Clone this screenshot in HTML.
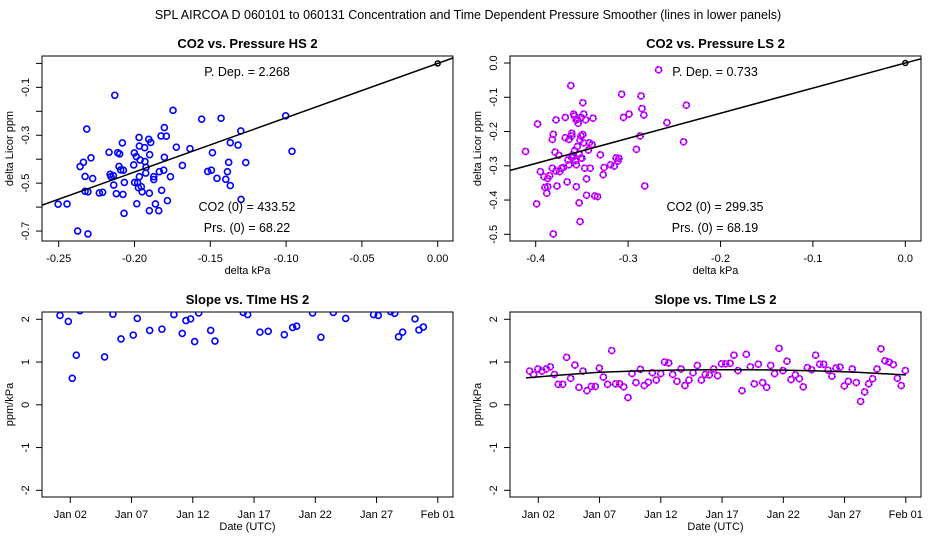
<!DOCTYPE html>
<html><head><meta charset="utf-8"><style>
body{margin:0;background:#fff}
svg{display:block;font-family:"Liberation Sans",sans-serif}
</style></head><body>
<svg id="c" width="936" height="540" viewBox="0 0 936 540">
<text x="468" y="19" text-anchor="middle" font-size="12.5">SPL   AIRCOA D   060101 to 060131   Concentration and Time Dependent Pressure Smoother (lines in lower panels)</text>
</svg>
<script>
// ---- data ----
const hsPressX=[-0.213,-0.2315,-0.2504,-0.2445,-0.2375,-0.2307,-0.2359,-0.2337,-0.2326,-0.2287,-0.2276,-0.2326,-0.2307,-0.2232,-0.2210,-0.2168,-0.2161,-0.2155,-0.2139,-0.2137,-0.2120,-0.2111,-0.2102,-0.2098,-0.2091,-0.2080,-0.2076,-0.2073,-0.2067,-0.2069,-0.2005,-0.2001,-0.1999,-0.1988,-0.1985,-0.1979,-0.1974,-0.1970,-0.1968,-0.1968,-0.1963,-0.1955,-0.1950,-0.1933,-0.1931,-0.1926,-0.1924,-0.1906,-0.1893,-0.1900,-0.1902,-0.1902,-0.1873,-0.1873,-0.1862,-0.1840,-0.1836,-0.1825,-0.1821,-0.1807,-0.1803,-0.1803,-0.1790,-0.1783,-0.1763,-0.1746,-0.1724,-0.1684,-0.1634,-0.1557,-0.1517,-0.1493,-0.1486,-0.1456,-0.1429,-0.1398,-0.1387,-0.1379,-0.1368,-0.1368,-0.1317,-0.1299,-0.1297,-0.1266,-0.1003,-0.0961];
const hsPressY=[-0.133,-0.274,-0.588,-0.587,-0.700,-0.712,-0.431,-0.413,-0.472,-0.394,-0.481,-0.534,-0.536,-0.541,-0.538,-0.371,-0.463,-0.473,-0.469,-0.508,-0.544,-0.373,-0.430,-0.378,-0.445,-0.332,-0.547,-0.446,-0.497,-0.626,-0.424,-0.374,-0.497,-0.389,-0.586,-0.498,-0.519,-0.309,-0.345,-0.473,-0.403,-0.515,-0.536,-0.352,-0.410,-0.458,-0.434,-0.317,-0.330,-0.381,-0.542,-0.615,-0.473,-0.485,-0.587,-0.615,-0.452,-0.303,-0.530,-0.446,-0.268,-0.392,-0.304,-0.573,-0.473,-0.196,-0.350,-0.426,-0.356,-0.233,-0.451,-0.446,-0.373,-0.480,-0.229,-0.484,-0.452,-0.413,-0.331,-0.510,-0.341,-0.282,-0.568,-0.414,-0.219,-0.367];
const hsSlope=2.268;
const lsPressX=[-0.411,-0.398,-0.395,-0.399,-0.391,-0.390,-0.388,-0.387,-0.387,-0.385,-0.382,-0.382,-0.381,-0.381,-0.379,-0.378,-0.378,-0.377,-0.375,-0.374,-0.372,-0.370,-0.368,-0.368,-0.366,-0.365,-0.364,-0.364,-0.362,-0.361,-0.361,-0.361,-0.360,-0.359,-0.359,-0.358,-0.358,-0.357,-0.356,-0.356,-0.356,-0.355,-0.355,-0.354,-0.353,-0.353,-0.352,-0.352,-0.351,-0.351,-0.351,-0.350,-0.349,-0.349,-0.348,-0.348,-0.347,-0.346,-0.345,-0.345,-0.343,-0.342,-0.341,-0.339,-0.338,-0.336,-0.333,-0.330,-0.327,-0.326,-0.319,-0.315,-0.313,-0.311,-0.310,-0.307,-0.305,-0.299,-0.291,-0.287,-0.286,-0.285,-0.283,-0.282,-0.258,-0.240,-0.237,-0.267];
const lsPressY=[-0.258,-0.178,-0.317,-0.411,-0.332,-0.363,-0.380,-0.361,-0.337,-0.329,-0.307,-0.223,-0.208,-0.499,-0.260,-0.166,-0.315,-0.359,-0.269,-0.317,-0.307,-0.305,-0.218,-0.159,-0.347,-0.283,-0.297,-0.223,-0.066,-0.205,-0.213,-0.276,-0.269,-0.149,-0.273,-0.256,-0.155,-0.285,-0.166,-0.361,-0.297,-0.244,-0.164,-0.176,-0.266,-0.408,-0.463,-0.225,-0.213,-0.159,-0.278,-0.278,-0.116,-0.209,-0.233,-0.149,-0.307,-0.166,-0.386,-0.338,-0.254,-0.233,-0.307,-0.238,-0.161,-0.388,-0.390,-0.268,-0.326,-0.305,-0.297,-0.301,-0.277,-0.286,-0.278,-0.091,-0.159,-0.149,-0.252,-0.213,-0.096,-0.133,-0.152,-0.359,-0.174,-0.230,-0.123,-0.020];
const lsSlope=0.733;
// days after Jan 02
const hsDays=[-0.84,-0.16,0.16,0.49,0.79,2.8,3.48,4.14,5.14,5.47,6.48,7.48,8.46,9.14,9.44,9.82,10.15,10.48,11.46,11.81,14.12,14.48,15.48,16.16,17.47,18.15,18.48,19.78,20.46,21.47,22.48,24.76,25.14,26.15,26.48,26.8,27.13,28.14,28.46,28.82];
const hsSlopes=[2.09,1.95,0.62,1.16,2.2,1.12,2.12,1.54,1.63,2.02,1.74,1.77,2.11,1.67,1.97,2.01,1.48,2.15,1.74,1.49,2.16,2.11,1.70,1.72,1.64,1.81,1.84,2.15,1.58,2.16,2.02,2.11,2.09,2.18,2.14,1.59,1.70,2.01,1.75,1.82];
const lsDays=[-0.71,-0.38,-0.03,0.30,0.65,0.98,1.31,1.63,1.99,2.31,2.64,2.99,3.32,3.65,3.97,4.33,4.65,4.98,5.31,5.66,5.99,6.31,6.64,6.97,7.32,7.65,7.97,8.33,8.65,8.98,9.31,9.63,9.99,10.31,10.64,10.97,11.32,11.65,11.97,12.30,12.63,12.98,13.31,13.63,13.96,14.31,14.64,14.96,15.29,15.65,15.97,16.30,16.63,16.98,17.31,17.63,17.96,18.31,18.64,18.97,19.29,19.65,19.97,20.30,20.63,20.98,21.31,21.63,21.96,22.31,22.64,22.97,23.29,23.65,23.97,24.30,24.63,24.98,25.31,25.63,25.96,26.31,26.64,26.97,27.29,27.65,27.97,28.30,28.63,28.98,29.31,29.63,29.96];
const lsSlopes=[0.79,0.71,0.84,0.79,0.84,0.89,0.71,0.48,0.48,1.11,0.62,0.93,0.41,0.79,0.33,0.43,0.43,0.86,0.65,0.48,1.27,0.49,0.49,0.42,0.17,0.73,0.52,0.83,0.45,0.53,0.75,0.58,0.73,1.00,0.98,0.71,0.55,0.84,0.45,0.58,0.75,0.92,0.58,0.71,0.70,0.84,0.68,0.96,0.96,0.97,1.16,0.80,0.33,1.18,0.89,0.49,0.95,0.52,0.41,0.92,0.73,1.32,0.80,1.02,0.59,0.70,0.61,0.42,0.87,0.82,1.16,0.95,0.95,0.81,0.67,0.86,0.88,0.44,0.55,0.84,0.52,0.08,0.30,0.49,0.61,0.84,1.31,1.03,1.00,0.94,0.62,0.45,0.80];
const lsSmoothDays=[-1,2,5,8,11,14,17,20,23,26,28,30];
const lsSmoothVals=[0.63,0.70,0.76,0.79,0.81,0.82,0.82,0.81,0.79,0.76,0.73,0.70];
const dateTicks=[0,5,10,15,20,25,30];
const dateTickLabels=["Jan 02","Jan 07","Jan 12","Jan 17","Jan 22","Jan 27","Feb 01"];

const svg=document.getElementById('c');
const NS='http://www.w3.org/2000/svg';
function mk(tag,attrs,parent){const e=document.createElementNS(NS,tag);for(const k in attrs)e.setAttribute(k,attrs[k]);(parent||svg).appendChild(e);return e;}
function txt(s,attrs,name){const e=mk('text',attrs);e.textContent=s;
  
  
  return e;}
let clipN=0;
function panel(o){
  const g=mk('g',{});
  
  
  const sx=v=>o.x0px+(v-o.x0)*o.xs, sy=v=>o.y0px-(v-o.y0)*o.ys;
  const id='cl'+(clipN++);
  const cp=mk('clipPath',{id:id},g);mk('rect',{x:o.L,y:o.T,width:o.R-o.L,height:o.B-o.T},cp);
  const box=mk('rect',{x:o.L,y:o.T,width:o.R-o.L,height:o.B-o.T,fill:'none',stroke:'#000','stroke-width':1},g);
  
  
  txt(o.title,{x:(o.L+o.R)/2,y:o.T-8,'text-anchor':'middle','font-size':13,'font-weight':'bold'},'panel-title');
  // x axis
  const xt=o.xticks.map(sx);
  mk('line',{x1:xt[0],x2:xt[xt.length-1],y1:o.B,y2:o.B,stroke:'#000'},g);
  o.xticks.forEach((t,i)=>{mk('line',{x1:sx(t),x2:sx(t),y1:o.B,y2:o.B+6,stroke:'#000'},g);
    txt(o.xlabels[i],{x:sx(t),y:o.B+21,'text-anchor':'middle','font-size':11},'x-tick-label');});
  txt(o.xtitle,{x:(o.L+o.R)/2,y:o.B+33,'text-anchor':'middle','font-size':11},'x-axis-title');
  const yt=o.yticks.map(sy);
  mk('line',{x1:o.L,x2:o.L,y1:yt[0],y2:yt[yt.length-1],stroke:'#000'},g);
  o.yticks.forEach((t,i)=>{mk('line',{x1:o.L-6,x2:o.L,y1:sy(t),y2:sy(t),stroke:'#000'},g);
    if(o.ylabels[i]!=='')txt(o.ylabels[i],{x:o.L-13,y:sy(t),'text-anchor':'middle','font-size':11,transform:`rotate(-90 ${o.L-13} ${sy(t)})`},'y-tick-label');});
  txt(o.ytitle,{x:o.L-29,y:(o.T+o.B)/2,'text-anchor':'middle','font-size':11,transform:`rotate(-90 ${o.L-29} ${(o.T+o.B)/2})`},'y-axis-title');
  const pg=mk('g',{'clip-path':`url(#${id})`},g);
  return {sx,sy,pg};
}
function dot(pg,x,y,ls){
  const c=mk('circle',{cx:x,cy:y,r:3,fill:'none',stroke:ls?'#ff00ff':'#0000ff','stroke-width':1.6},pg);
  
  
  if(ls){mk('circle',{cx:x,cy:y,r:3,fill:'none',stroke:'#0000ff','stroke-width':1.6,'stroke-dasharray':'1 3'},pg);}
}
// panel 1
let p=panel({name:'hs-pressure-panel',title:'CO2 vs. Pressure HS 2',L:42,R:453,T:56,B:241,x0:0,x0px:437.7,xs:1516,y0:0,y0px:63.4,ys:239.5,
  xticks:[-0.25,-0.2,-0.15,-0.1,-0.05,0],xlabels:['-0.25','-0.20','-0.15','-0.10','-0.05','0.00'],
  yticks:[0,-0.1,-0.2,-0.3,-0.4,-0.5,-0.6,-0.7],ylabels:['','-0.1','','-0.3','','-0.5','','-0.7'],xtitle:'delta kPa',ytitle:'delta Licor ppm'});
hsPressX.forEach((v,i)=>dot(p.pg,p.sx(v),p.sy(hsPressY[i]),false));
mk('line',{x1:p.sx(-0.3),y1:p.sy(-0.3*hsSlope),x2:p.sx(0.05),y2:p.sy(0.05*hsSlope),stroke:'#000','stroke-width':1.5},p.pg);
mk('circle',{cx:p.sx(0),cy:p.sy(0),r:2.5,fill:'none',stroke:'#000','stroke-width':1.5},p.pg);
txt('P. Dep. =  2.268',{x:247,y:76,'text-anchor':'middle','font-size':12.5},'p-dep-label');
txt('CO2 (0) =  433.52',{x:247,y:211,'text-anchor':'middle','font-size':12.5},'co2-zero-label');
txt('Prs. (0) =  68.22',{x:247,y:232,'text-anchor':'middle','font-size':12.5},'prs-zero-label');
// panel 2
p=panel({name:'ls-pressure-panel',title:'CO2 vs. Pressure LS 2',L:510,R:921,T:56,B:241,x0:0,x0px:905.3,xs:924,y0:0,y0px:63,ys:342.6,
  xticks:[-0.4,-0.3,-0.2,-0.1,0],xlabels:['-0.4','-0.3','-0.2','-0.1','0.0'],
  yticks:[0,-0.1,-0.2,-0.3,-0.4,-0.5],ylabels:['0.0','-0.1','-0.2','-0.3','-0.4','-0.5'],xtitle:'delta kPa',ytitle:'delta Licor ppm'});
lsPressX.forEach((v,i)=>dot(p.pg,p.sx(v),p.sy(lsPressY[i]),true));
mk('line',{x1:p.sx(-0.5),y1:p.sy(-0.5*lsSlope),x2:p.sx(0.05),y2:p.sy(0.05*lsSlope),stroke:'#000','stroke-width':1.5},p.pg);
mk('circle',{cx:p.sx(0),cy:p.sy(0),r:2.5,fill:'none',stroke:'#000','stroke-width':1.5},p.pg);
txt('P. Dep. =  0.733',{x:715,y:76,'text-anchor':'middle','font-size':12.5},'p-dep-label');
txt('CO2 (0) =  299.35',{x:715,y:211,'text-anchor':'middle','font-size':12.5},'co2-zero-label');
txt('Prs. (0) =  68.19',{x:715,y:232,'text-anchor':'middle','font-size':12.5},'prs-zero-label');
// panel 3
p=panel({name:'hs-slope-panel',title:'Slope vs. TIme HS 2',L:42,R:453,T:312,B:497,x0:0,x0px:70.3,xs:12.25,y0:0,y0px:404.8,ys:42.75,
  xticks:dateTicks,xlabels:dateTickLabels,yticks:[-2,-1,0,1,2],ylabels:['-2','-1','0','1','2'],xtitle:'Date (UTC)',ytitle:'ppm/kPa'});
hsDays.forEach((d,i)=>dot(p.pg,p.sx(d),p.sy(hsSlopes[i]),false));
// panel 4
p=panel({name:'ls-slope-panel',title:'Slope vs. TIme LS 2',L:510,R:921,T:312,B:497,x0:0,x0px:538.3,xs:12.25,y0:0,y0px:404.8,ys:42.75,
  xticks:dateTicks,xlabels:dateTickLabels,yticks:[-2,-1,0,1,2],ylabels:['-2','-1','0','1','2'],xtitle:'Date (UTC)',ytitle:'ppm/kPa'});
lsDays.forEach((d,i)=>dot(p.pg,p.sx(d),p.sy(lsSlopes[i]),true));
const sm=mk('polyline',{points:lsSmoothDays.map((d,i)=>p.sx(d)+','+p.sy(lsSmoothVals[i])).join(' '),fill:'none',stroke:'#000','stroke-width':1.5},p.pg);


</script>
</body></html>
